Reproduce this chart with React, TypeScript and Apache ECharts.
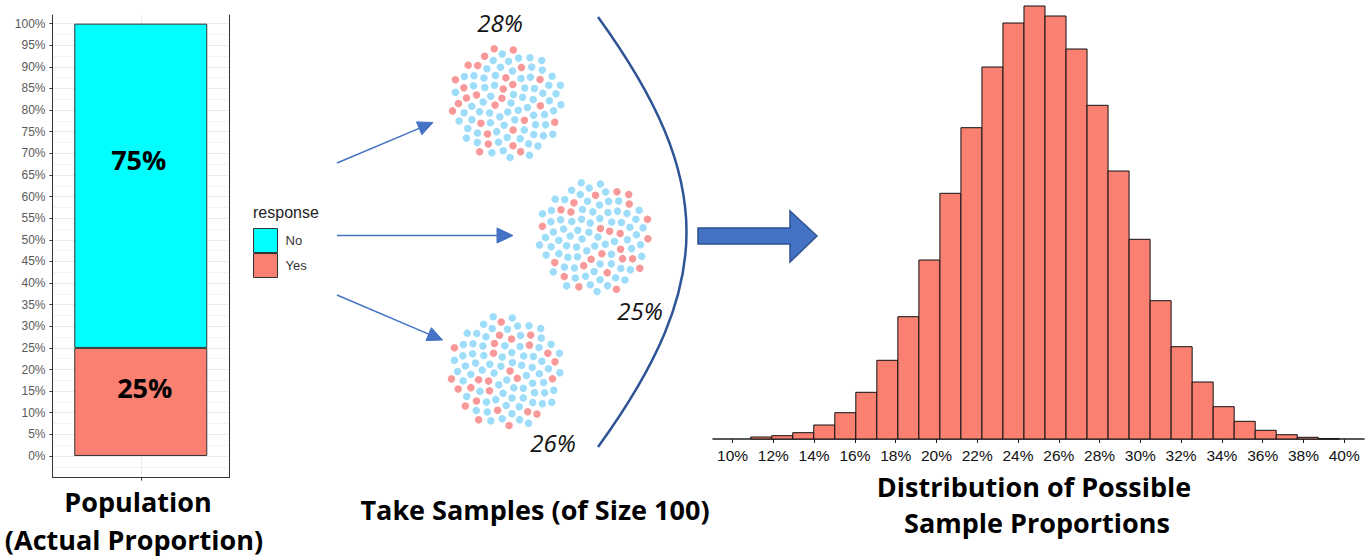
import React, { useEffect, useRef } from "react";
import * as echarts from "echarts";

// ---------- data ----------
const populationCategory = ["Population"];
const populationYes = [25];
const populationNo = [75];
const populationTicks = [0, 5, 10, 15, 20, 25, 30, 35, 40, 45, 50, 55, 60, 65, 70, 75, 80, 85, 90, 95, 100];

const histBinStart = 10.89;
const histBinWidth = 1.031;
const histCounts = [20, 33, 63, 140, 263, 467, 787, 1223, 1790, 2457, 3113, 3720, 4160, 4330, 4230, 3900, 3337, 2680, 1997, 1383, 923, 570, 323, 177, 87, 43, 17, 3];
const histTicks = [10, 12, 14, 16, 18, 20, 22, 24, 26, 28, 30, 32, 34, 36, 38, 40];

const sampleSize = 100;
// indices of the dots that answered "Yes" in each sample
const sample1Yes = [1, 4, 6, 11, 18, 19, 23, 30, 33, 34, 41, 45, 50, 51, 57, 62, 64, 69, 72, 78, 81, 82, 87, 90, 93, 95, 96, 98];
const sample2Yes = [3, 8, 10, 15, 21, 26, 28, 35, 39, 44, 48, 53, 56, 60, 67, 71, 75, 79, 83, 85, 89, 92, 94, 97, 99];
const sample3Yes = [0, 5, 12, 14, 20, 25, 27, 32, 37, 40, 46, 49, 54, 58, 63, 65, 68, 74, 76, 80, 86, 88, 91, 93, 96, 98];

// ---------- styling / layout ----------
const SALMON = "#FA8072";
const CYAN = "#00FFFF";
const DOT_BLUE = "#86D4F8";
const DOT_RED = "#F67E7E";
const ARROW_BLUE = "#4472C4";
const SANS = '"Liberation Sans", Arial, sans-serif';
const CAPTION = '"Open Sans", "Liberation Sans", sans-serif';

const samples = [
  { yes: sample1Yes, cx: 507, cy: 103, lx: 500, ly: 22 },
  { yes: sample2Yes, cx: 594, cy: 237, lx: 640, ly: 310 },
  { yes: sample3Yes, cx: 506, cy: 371, lx: 553, ly: 442 },
];

function sunflower(i: number): [number, number] {
  const r = 5.7 * Math.sqrt(i + 0.5);
  const a = i * 2.39996323;
  return [r * Math.cos(a), r * Math.sin(a)];
}

function arrow(x1: number, y1: number, x2: number, y2: number, len: number, half: number) {
  const dx = x2 - x1;
  const dy = y2 - y1;
  const d = Math.sqrt(dx * dx + dy * dy);
  const ux = dx / d;
  const uy = dy / d;
  const bx = x2 - ux * len;
  const by = y2 - uy * len;
  return [
    {
      type: "line",
      shape: { x1, y1, x2: bx, y2: by },
      style: { stroke: ARROW_BLUE, lineWidth: 1.5 },
    },
    {
      type: "polygon",
      shape: {
        points: [
          [x2, y2],
          [bx - uy * half, by + ux * half],
          [bx + uy * half, by - ux * half],
        ],
      },
      style: { fill: ARROW_BLUE, stroke: ARROW_BLUE, lineWidth: 1 },
    },
  ];
}

function textEl(text: string, x: number, y: number, font: string, fill = "#000", align = "center") {
  return {
    type: "text",
    style: {
      text,
      x,
      y,
      font,
      fill,
      align,
      textAlign: align,
      verticalAlign: "middle",
      textVerticalAlign: "middle",
    },
  };
}

export default function App() {
  const ref = useRef<HTMLDivElement>(null);

  useEffect(() => {
    document.body.style.margin = "0";
    if (!ref.current) return;
    const chart = echarts.init(ref.current, undefined, { renderer: "svg" });

    const histData = histCounts.map((c, i) => [
      histBinStart + i * histBinWidth,
      histBinStart + (i + 1) * histBinWidth,
      c,
    ]);

    const grids: any[] = [
      { left: 52.5, top: 15, width: 176.5, height: 462.6 },
      { left: 713, top: 6, width: 651, height: 433 },
    ];
    const xAxes: any[] = [
      {
        gridIndex: 0,
        type: "category",
        data: populationCategory,
        position: "bottom",
        axisLine: { show: true, onZero: false, lineStyle: { color: "#333", width: 1 } },
        axisTick: { show: false },
        axisLabel: { show: false },
        splitLine: { show: false },
      },
      {
        gridIndex: 0,
        type: "value",
        min: 0,
        max: 2,
        interval: 1,
        position: "bottom",
        axisLine: { show: false, onZero: false },
        axisTick: { show: true, length: 3, customValues: [1], lineStyle: { color: "#333" } },
        axisLabel: { show: false },
        splitLine: { show: true, lineStyle: { color: "#EBEBEB", width: 1 } },
      },
      {
        gridIndex: 1,
        type: "value",
        min: 9.04,
        max: 40.97,
        position: "bottom",
        axisLine: { show: true, onZero: false, lineStyle: { color: "#222", width: 1.5 } },
        axisTick: { show: true, length: 4, customValues: histTicks, lineStyle: { color: "#222" } },
        axisLabel: {
          customValues: histTicks,
          formatter: (v: number) => `${Math.round(v)}%`,
          fontSize: 15.5,
          color: "#111",
          margin: 8,
          fontFamily: SANS,
        },
        splitLine: { show: false },
      },
    ];
    const yAxes: any[] = [
      {
        gridIndex: 0,
        type: "value",
        min: -5,
        max: 102,
        interval: 5,
        axisLine: { show: true, onZero: false, lineStyle: { color: "#333", width: 1 } },
        axisTick: { show: true, length: 3, customValues: populationTicks, lineStyle: { color: "#333" } },
        axisLabel: {
          customValues: populationTicks,
          formatter: (v: number) => `${Math.round(v)}%`,
          fontSize: 12,
          color: "#5a5a5a",
          margin: 7,
          fontFamily: SANS,
        },
        splitLine: { show: true, lineStyle: { color: "#EBEBEB", width: 1 } },
        minorTick: { show: false, splitNumber: 2 },
        minorSplitLine: { show: true, lineStyle: { color: "#F3F3F3", width: 1 } },
      },
      {
        gridIndex: 0,
        type: "value",
        position: "right",
        min: -5,
        max: 102,
        axisLine: { show: true, onZero: false, lineStyle: { color: "#333", width: 1 } },
        axisTick: { show: false },
        axisLabel: { show: false },
        splitLine: { show: false },
      },
      {
        gridIndex: 1,
        type: "value",
        min: 0,
        max: 4330,
        show: false,
        splitLine: { show: false },
      },
    ];

    const series: any[] = [
      {
        name: "Yes",
        type: "bar",
        xAxisIndex: 0,
        yAxisIndex: 0,
        stack: "pop",
        barWidth: 133,
        data: populationYes,
        itemStyle: { color: SALMON, borderColor: "#333", borderWidth: 1 },
        label: {
          show: true,
          position: "inside",
          formatter: "{c}%",
          fontSize: 27,
          fontWeight: "bold",
          fontFamily: CAPTION,
          color: "#000",
          offset: [4, -14],
        },
      },
      {
        name: "No",
        type: "bar",
        xAxisIndex: 0,
        yAxisIndex: 0,
        stack: "pop",
        barWidth: 133,
        data: populationNo,
        itemStyle: { color: CYAN, borderColor: "#333", borderWidth: 1 },
        label: {
          show: true,
          position: "inside",
          formatter: "{c}%",
          fontSize: 27,
          fontWeight: "bold",
          fontFamily: CAPTION,
          color: "#000",
          offset: [-2, -26],
        },
      },
      {
        name: "Sample proportions",
        type: "custom",
        xAxisIndex: 2,
        yAxisIndex: 2,
        data: histData,
        encode: { x: [0, 1], y: 2 },
        renderItem: (params: any, api: any) => {
          const p0 = api.coord([api.value(0), 0]);
          const p1 = api.coord([api.value(1), api.value(2)]);
          return {
            type: "rect",
            shape: { x: p0[0], y: p1[1], width: p1[0] - p0[0], height: p0[1] - p1[1] },
            style: { fill: SALMON, stroke: "#111", lineWidth: 1 },
          };
        },
      },
    ];

    samples.forEach((s, k) => {
      const gi = grids.length;
      const xi = xAxes.length;
      const yi = yAxes.length;
      grids.push({ left: s.cx - 60, top: s.cy - 60, width: 120, height: 120 });
      xAxes.push({ gridIndex: gi, type: "value", min: -60, max: 60, show: false, splitLine: { show: false } });
      yAxes.push({ gridIndex: gi, type: "value", min: -60, max: 60, show: false, splitLine: { show: false } });
      const data = [];
      for (let i = 0; i < sampleSize; i++) {
        const isYes = s.yes.includes(i);
        data.push({ value: sunflower(i), itemStyle: { color: isYes ? DOT_RED : DOT_BLUE } });
      }
      series.push({
        name: `Sample ${k + 1}`,
        type: "scatter",
        xAxisIndex: xi,
        yAxisIndex: yi,
        symbol: "circle",
        symbolSize: 7.5,
        data,
      });
    });

    const graphics: any[] = [
      textEl("response", 253, 212, `16px ${SANS}`, "#222", "left"),
      ...arrow(337, 163, 433, 122.5, 15, 7),
      ...arrow(337, 235.5, 513, 235.5, 16, 7.5),
      ...arrow(337, 295, 442.5, 340, 15, 7),
      {
        type: "bezierCurve",
        shape: { x1: 598, y1: 17, x2: 598, y2: 447, cpx1: 716, cpy1: 180, cpx2: 716, cpy2: 284 },
        style: { stroke: "#2F5597", lineWidth: 2.5, fill: null },
      },
      {
        type: "polygon",
        shape: {
          points: [
            [698, 228],
            [790, 228],
            [790, 211],
            [817, 236],
            [790, 262],
            [790, 244],
            [698, 244],
          ],
        },
        style: { fill: ARROW_BLUE, stroke: "#2F528F", lineWidth: 1.5 },
      },
      ...samples.map((s) =>
        textEl(`${Math.round((s.yes.length / sampleSize) * 100)}%`, s.lx, s.ly, `italic 24px ${CAPTION}`, "#111")
      ),
      textEl("Population", 138, 501, `bold 27px ${CAPTION}`),
      textEl("(Actual Proportion)", 134, 539, `bold 27px ${CAPTION}`),
      textEl("Take Samples (of Size 100)", 535, 509, `bold 27px ${CAPTION}`),
      textEl("Distribution of Possible", 1034, 486, `bold 27px ${CAPTION}`),
      textEl("Sample Proportions", 1037, 522, `bold 27px ${CAPTION}`),
    ];

    chart.setOption({
      animation: false,
      backgroundColor: "#fff",
      grid: grids,
      xAxis: xAxes,
      yAxis: yAxes,
      legend: {
        data: ["No", "Yes"],
        orient: "vertical",
        left: 253,
        top: 228,
        itemWidth: 24,
        itemHeight: 24,
        itemGap: 0,
        icon: "rect",
        padding: 0,
        selectedMode: false,
        itemStyle: { borderColor: "#333", borderWidth: 1 },
        textStyle: { fontSize: 13, color: "#333", fontFamily: SANS, padding: [0, 0, 0, 3] },
      },
      series,
      graphic: graphics,
    });

    return () => chart.dispose();
  }, []);

  return (
    <div
      ref={ref}
      style={{ position: "absolute", left: 0, top: 0, width: 1371, height: 559 }}
    />
  );
}
